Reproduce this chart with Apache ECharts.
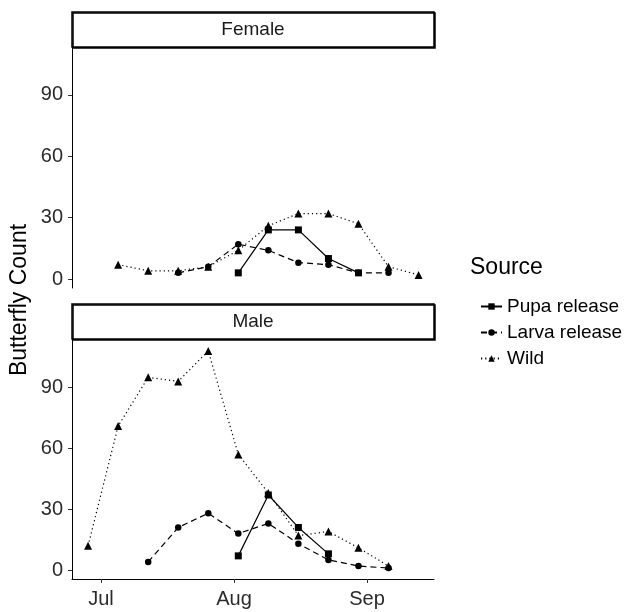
<!DOCTYPE html>
<html>
<head>
<meta charset="utf-8">
<script src="https://cdn.jsdelivr.net/npm/echarts@6/dist/echarts.min.js"></script>
<style>
  html, body { margin: 0; padding: 0; background: #fff; }
  #chart { width: 628px; height: 612px; }
</style>
</head>
<body>
<div id="chart"></div>
<script>
// weekly survey dates
var dates = ['2019-06-28','2019-07-05','2019-07-12','2019-07-19','2019-07-26','2019-08-02',
             '2019-08-09','2019-08-16','2019-08-23','2019-08-30','2019-09-06','2019-09-13'];
var sources = ['Pupa release', 'Larva release', 'Wild'];
var panels = ['Female', 'Male'];

// counts per panel (null = not surveyed)
var femalePupa  = [null,null,null,null,null,3,24,24,10,3,null,null];
var femaleLarva = [null,null,null,3,6,17,14,8,7,3,3,null];
var femaleWild  = [null,7,4,4,6,14,26,32,32,27,6,2];
var malePupa    = [null,null,null,null,null,7,37,21,8,null,null,null];
var maleLarva   = [null,null,4,21,28,18,23,13,5,2,1,null];
var maleWild    = [12,71,95,93,108,57,38,17,19,11,2,null];

var yTicks = [0, 30, 60, 90];
var monthTicks = ['2019-07-01', '2019-08-01', '2019-09-01'];
var monthNames = ['Jul', 'Aug', 'Sep'];

var FONT = 'Liberation Sans';
var chart = echarts.init(document.getElementById('chart'));

function ts(d) { return Date.parse(d + 'T00:00:00Z'); }

function pairs(vals) {
    var out = [];
    for (var i = 0; i < dates.length; i++) {
        if (vals[i] != null) out.push([ts(dates[i]), vals[i]]);
    }
    return out;
}

var styles = {
    'Pupa release':  { symbol: 'rect', size: 7, dash: 'solid' },
    'Larva release': { symbol: 'circle', size: 6.5, dash: [6, 4] },
    'Wild':          { symbol: 'triangle', size: 8, dash: [1.2, 3] }
};

function makeSeries(name, vals, idx) {
    var s = styles[name];
    return {
        name: name,
        type: 'line',
        xAxisIndex: idx,
        yAxisIndex: idx,
        data: pairs(vals),
        symbol: s.symbol,
        symbolSize: s.size,
        showSymbol: true,
        itemStyle: { color: '#000' },
        lineStyle: { color: '#000', width: 1.2, type: s.dash },
        animation: false
    };
}

var DAY = 86400000;
var tMin = ts('2019-06-24') + 0.25 * DAY;
var tMax = ts('2019-09-16') + 0.6 * DAY;
var monthVals = monthTicks.map(ts);

function xAxis(idx, show) {
    return {
        type: 'value',
        gridIndex: idx,
        min: tMin,
        max: tMax,
        axisLine: { show: show, onZero: false, lineStyle: { color: '#000', width: 1 } },
        axisTick: { show: show, length: 4, customValues: monthVals, lineStyle: { color: '#333' } },
        axisLabel: {
            show: show,
            customValues: monthVals,
            fontFamily: FONT, fontSize: 20, color: '#2b2b2b', margin: 10,
            formatter: function (v) {
                return monthNames[monthVals.indexOf(v)] || '';
            }
        },
        splitLine: { show: false }
    };
}

function yAxis(idx) {
    return {
        type: 'value',
        gridIndex: idx,
        min: -4.4,
        max: 113.4,
        axisLine: { show: true, onZero: false, lineStyle: { color: '#000', width: 1 } },
        axisTick: { show: true, length: 4, customValues: yTicks, lineStyle: { color: '#333' } },
        axisLabel: { customValues: yTicks, fontFamily: FONT, fontSize: 20, color: '#2b2b2b', margin: 9 },
        splitLine: { show: false }
    };
}

function strip(label, top) {
    return [
        {
            type: 'rect',
            shape: { x: 72, y: top, width: 362, height: 35 },
            style: { fill: '#fff', stroke: '#000', lineWidth: 1.5,
                     shadowColor: '#000', shadowOffsetX: 1, shadowOffsetY: 1, shadowBlur: 0 },
            z: 10
        },
        {
            type: 'text',
            x: 253, y: top + 17.5,
            style: { text: label, fontFamily: FONT, fontSize: 19, fill: '#1a1a1a',
                     align: 'center', verticalAlign: 'middle' },
            z: 11
        }
    ];
}

var option = {
    backgroundColor: '#fff',
    animation: false,
    grid: [
        { left: 72, top: 47, width: 362, height: 241 },
        { left: 72, top: 340, width: 362, height: 239 }
    ],
    xAxis: [xAxis(0, false), xAxis(1, true)],
    yAxis: [yAxis(0), yAxis(1)],
    legend: {
        data: sources,
        orient: 'vertical',
        left: 475,
        top: 292,
        itemWidth: 21,
        itemHeight: 8,
        itemGap: 7,
        textStyle: { fontFamily: FONT, fontSize: 19, color: '#000' },
        selectedMode: false
    },
    graphic: strip(panels[0], 12).concat(strip(panels[1], 304)).concat([
        {
            type: 'text',
            x: 470, y: 268,
            style: { text: 'Source', fontFamily: FONT, fontSize: 23, fill: '#000', verticalAlign: 'middle' }
        },
        {
            type: 'text',
            x: 20, y: 300,
            rotation: Math.PI / 2,
            style: { text: 'Butterfly Count', fontFamily: FONT, fontSize: 23, fill: '#000',
                     align: 'center', verticalAlign: 'middle' }
        }
    ]),
    series: [
        makeSeries('Pupa release', femalePupa, 0),
        makeSeries('Larva release', femaleLarva, 0),
        makeSeries('Wild', femaleWild, 0),
        makeSeries('Pupa release', malePupa, 1),
        makeSeries('Larva release', maleLarva, 1),
        makeSeries('Wild', maleWild, 1)
    ]
};

chart.setOption(option);
</script>
</body>
</html>
